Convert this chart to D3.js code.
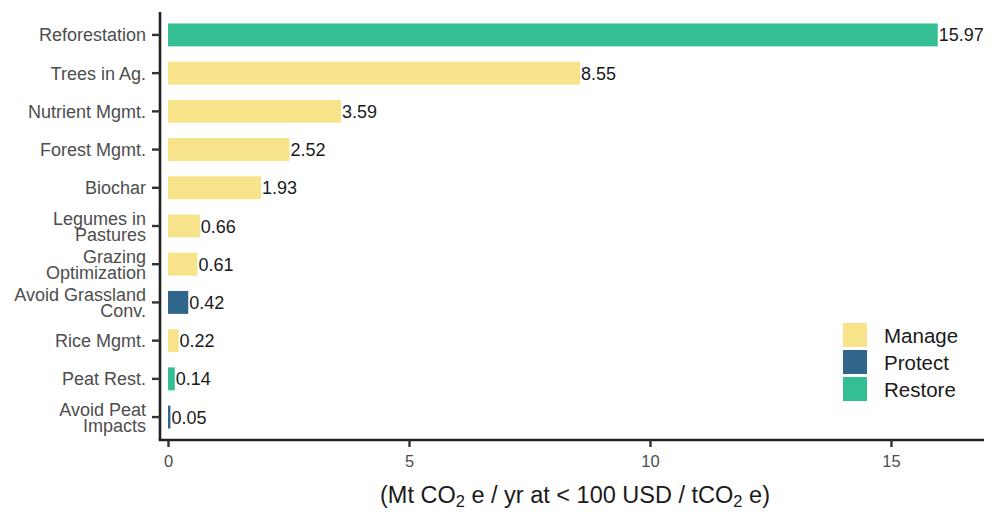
<!DOCTYPE html>
<html>
<head>
<meta charset="utf-8">
<script src="https://cdn.jsdelivr.net/npm/d3@7"></script>
<style>
  html, body { margin: 0; padding: 0; background: #fff; }
  svg { display: block; font-family: "Liberation Sans", Arial, sans-serif; }
</style>
</head>
<body>
<svg id="chart" width="1001" height="512"></svg>
<script>
// ---- data ----
const categories = ["Reforestation", "Trees in Ag.", "Nutrient Mgmt.", "Forest Mgmt.", "Biochar",
  "Legumes in\nPastures", "Grazing\nOptimization", "Avoid Grassland\nConv.", "Rice Mgmt.",
  "Peat Rest.", "Avoid Peat\nImpacts"];
const values = [15.97, 8.55, 3.59, 2.52, 1.93, 0.66, 0.61, 0.42, 0.22, 0.14, 0.05];
const groups = ["Restore", "Manage", "Manage", "Manage", "Manage", "Manage", "Manage",
  "Protect", "Manage", "Restore", "Protect"];
const legendLabels = ["Manage", "Protect", "Restore"];
const legendColors = ["#f7e38a", "#30658c", "#35bd93"];
const xTicks = [0, 5, 10, 15];

(function () {
const data = categories.map((c, i) => ({ cat: c, value: values[i], group: groups[i] }));

// ---- layout ----
const svg = d3.select("#chart");
const pL = 160, pR = 984, pT = 12, pB = 440;

const x = d3.scaleLinear().domain([-0.166, 16.93]).range([pL, pR]);
const y = d3.scaleBand().domain(categories).range([pT, pB]).paddingInner(0.4).paddingOuter(0.3);
const color = d3.scaleOrdinal().domain(legendLabels).range(legendColors);

// bars
svg.append("g").selectAll("rect").data(data).join("rect")
  .attr("x", x(0))
  .attr("y", d => y(d.cat))
  .attr("width", d => x(d.value) - x(0))
  .attr("height", y.bandwidth())
  .attr("fill", d => color(d.group));

// value labels
svg.append("g").selectAll("text").data(data).join("text")
  .attr("x", d => x(d.value) + 1)
  .attr("y", d => y(d.cat) + y.bandwidth() / 2 + 6.5)
  .attr("font-size", 18)
  .attr("fill", "#1a1a1a")
  .text(d => d.value.toFixed(2));

// y axis
const yAxis = svg.append("g").attr("transform", `translate(${pL},0)`)
  .call(d3.axisLeft(y).tickSize(8).tickPadding(6).tickFormat(""));
yAxis.select(".domain").attr("d", `M0,${pT}V${pB}`).attr("stroke", "#222").attr("stroke-width", 2.6);
yAxis.selectAll(".tick line").attr("stroke", "#333").attr("stroke-width", 2.4);
yAxis.selectAll(".tick").each(function(d) {
  const lines = d.split("\n");
  const t = d3.select(this).append("text")
    .attr("x", -14)
    .attr("text-anchor", "end")
    .attr("font-size", 18)
    .attr("fill", "#4d4d4d");
  const off = lines.length === 1 ? [6.5] : [-1.5, 14.5];
  lines.forEach((ln, i) => {
    t.append("tspan").attr("x", -14).attr("y", off[i]).text(ln);
  });
});

// x axis
const xAxis = svg.append("g").attr("transform", `translate(0,${pB})`)
  .call(d3.axisBottom(x).tickValues(xTicks).tickSize(7).tickPadding(6).tickSizeOuter(0));
xAxis.select(".domain").attr("d", `M${pL - 1.3},0H${pR}`).attr("stroke", "#222").attr("stroke-width", 2.6);
xAxis.selectAll(".tick line").attr("stroke", "#333").attr("stroke-width", 2.4);
xAxis.selectAll(".tick text").attr("font-size", 16.5).attr("fill", "#4d4d4d")
  .attr("font-family", "Liberation Sans, Arial, sans-serif").attr("dy", "0.85em");

// x title with subscripts
const title = svg.append("text")
  .attr("x", (pL + pR) / 2 + 3)
  .attr("y", 503)
  .attr("text-anchor", "middle")
  .attr("font-size", 23.5)
  .attr("fill", "#1a1a1a");
const parts = [["(Mt CO", false], ["2", true], [" e / yr at < 100 USD / tCO", false], ["2", true], [" e)", false]];
parts.forEach(([s, sub], i) => {
  const ts = title.append("tspan").text(s);
  if (sub) ts.attr("font-size", 16.5).attr("dy", 4);
  else if (i > 0) ts.attr("dy", -4);
});

// legend
const lg = svg.append("g").attr("transform", "translate(843,323)");
legendLabels.forEach((lab, i) => {
  lg.append("rect").attr("x", 0).attr("y", i * 27).attr("width", 24).attr("height", 24).attr("fill", legendColors[i]);
  lg.append("text").attr("x", 41).attr("y", i * 27 + 19.5).attr("font-size", 20.5).attr("fill", "#1a1a1a").text(lab);
});
})();
</script>
</body>
</html>
